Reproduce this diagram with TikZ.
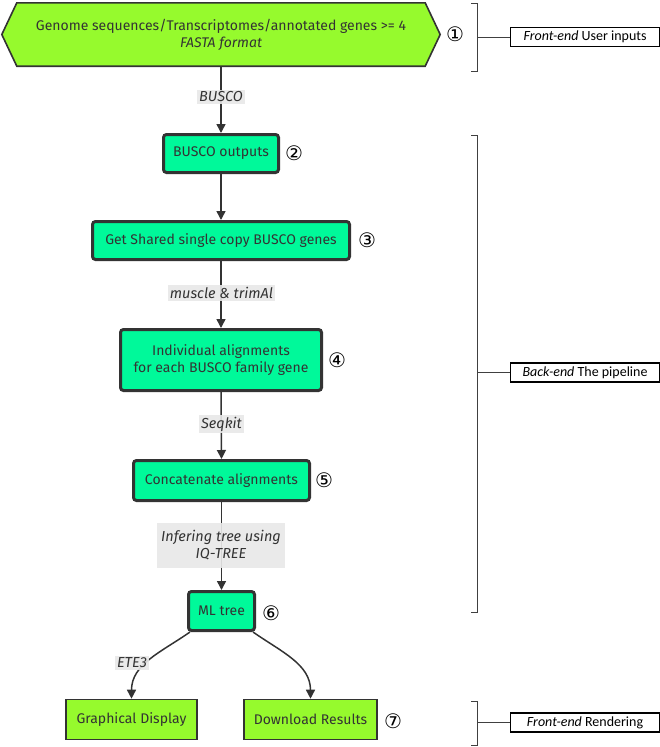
\documentclass[tikz,border=0pt]{standalone}
\usepackage{fontspec}
\setmainfont{Fira Sans}
\newfontfamily\calib{Carlito}
\newfontfamily\dejavu{DejaVu Sans}
\usetikzlibrary{arrows.meta,backgrounds,calc}
\definecolor{limeG}{HTML}{96FA2D}
\definecolor{springG}{HTML}{00F99A}
\definecolor{edgec}{HTML}{333333}
\definecolor{txt}{HTML}{333333}
\definecolor{lblbg}{HTML}{E8E8E8}
\begin{document}
\begin{tikzpicture}[x=1pt,y=-1pt,
  font=\fontsize{14}{17}\selectfont,
  proc/.style={draw=edgec,line width=3pt,rounded corners=3pt,fill=springG,text=txt,align=center,inner sep=0pt},
  fe/.style={draw=edgec,line width=1.6pt,fill=limeG,text=txt,align=center,inner sep=0pt},
  lbl/.style={fill=lblbg,fill opacity=0.9,text opacity=1,text=txt,font=\fontsize{14.5}{17}\selectfont\itshape,inner sep=2pt,align=center},
  num/.style={font=\dejavu\fontsize{20}{20}\selectfont,text=black,inner sep=0pt},
  conn/.style={draw=edgec,line width=1.5pt,-{Triangle[length=9pt,width=9pt]}},
  brk/.style={draw=black!75,line width=0.9pt},
  tag/.style={draw=black,line width=1.1pt,font=\calib\fontsize{14}{16}\selectfont,minimum width=149,minimum height=19,inner sep=0pt,anchor=west}
]
\useasboundingbox (0,0) rectangle (660,747);

% input hexagon
\node[text=txt,align=center,minimum width=438,minimum height=63,inner sep=0pt] (b1) at (221,34.5)
  {Genome sequences/Transcriptomes/annotated genes >= 4\\ \textit{FASTA format}};
\begin{scope}[on background layer]
\filldraw[fill=limeG,draw=edgec,line width=1.6pt]
  (b1.west) -- ($(b1.north west)+(15,0)$) -- ($(b1.north east)+(-15,0)$) -- (b1.east)
  -- ($(b1.south east)+(-15,0)$) -- ($(b1.south west)+(15,0)$) -- cycle;
\end{scope}

% pipeline nodes
\node[proc,minimum width=115,minimum height=38] (b2) at (221,153.5) {BUSCO outputs};
\node[proc,minimum width=257,minimum height=38] (b3) at (221,240.5) {Get Shared single copy BUSCO genes};
\node[proc,minimum width=201,minimum height=61] (b4) at (221,360) {Individual alignments\\for each BUSCO family gene};
\node[proc,minimum width=176,minimum height=40] (b5) at (221.5,480.5) {Concatenate alignments};
\node[proc,minimum width=66,minimum height=39] (b6) at (221.5,611) {ML tree};
\node[fe,minimum width=131,minimum height=40] (gd) at (131.5,719.5) {Graphical Display};
\node[fe,minimum width=133,minimum height=40] (dr) at (310.5,719.5) {Download Results};

% connectors
\draw[conn] (b1.south) -- (b2.north);
\draw[conn] (b2.south) -- (b3.north);
\draw[conn] (b3.south) -- (b4.north);
\draw[conn] (b4.south) -- (b5.north);
\draw[conn] (b5.south) -- (b6.north);
\draw[conn] ($(b6.south west)+(3,0)$) to[out=-145,in=90] (gd.north);
\draw[conn] ($(b6.south east)+(-3,0)$) to[out=-35,in=90] (dr.north);

% edge labels
\node[lbl] (l1) at (221,97) {BUSCO};
\node[lbl] (l3) at (221.5,293) {muscle \& trimAl};
\node[lbl] (l4) at (221.5,424) {Seqkit};
\node[lbl,minimum width=128,minimum height=45] (l5) at (221,545.5) {Infering tree using\\IQ-TREE};
\node[lbl] (l6) at (132,663) {ETE3};

% step numbers
\node[num] (n1) at (455,34) {①};
\node[num] (n2) at (294,153) {②};
\node[num] (n3) at (367,240) {③};
\node[num] (n4) at (337,360) {④};
\node[num] (n5) at (324,480) {⑤};
\node[num] (n6) at (271,613) {⑥};
\node[num] (n7) at (393,721) {⑦};

% bracket tags
\node[tag] (t1) at (510,37) {\textit{Front-end} User inputs};
\node[tag] (t2) at (510,372.5) {\textit{Back-end} The pipeline};
\node[tag] (t3) at (510,722.5) {\textit{Front-end} Rendering};

\coordinate (k1) at (477,37);
\coordinate (k2) at (477,372.5);
\coordinate (k3) at (477,722.5);
\draw[brk] (471,3) -- (477,3) -- (477,71) -- (471,71);
\draw[brk] (471,135) -- (477,135) -- (477,612) -- (471,612);
\draw[brk] (471,701) -- (477,701) -- (477,745) -- (471,745);
\draw[brk] (k1) -- (t1.west);
\draw[brk] (k2) -- (t2.west);
\draw[brk] (k3) -- (t3.west);
\end{tikzpicture}
\end{document}
